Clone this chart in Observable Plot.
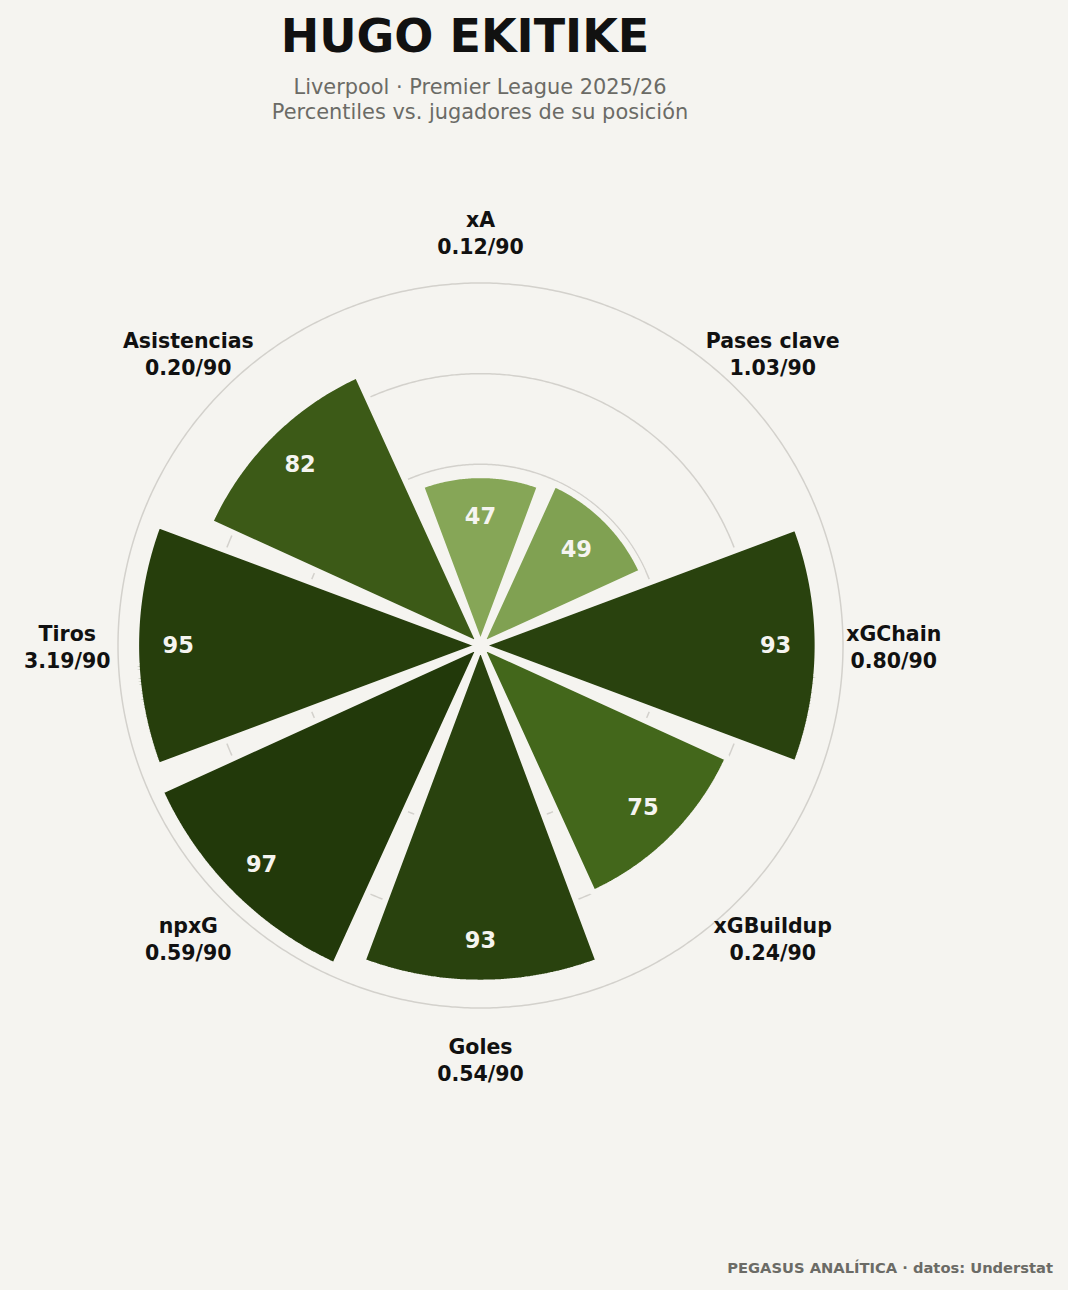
<!DOCTYPE html>
<html>
<head>
<meta charset="utf-8">
<script src="https://cdn.jsdelivr.net/npm/d3@7"></script>
<script src="https://cdn.jsdelivr.net/npm/@observablehq/plot@0.6"></script>
<style>
html, body { margin: 0; padding: 0; background: #f5f4f0; }
#page { position: relative; width: 1068px; height: 1290px; overflow: hidden; font-family: "DejaVu Sans", sans-serif; }
#header { position: relative; height: 140px; }
#footer { position: relative; height: 50px; }
.t { position: absolute; white-space: nowrap; line-height: 1; margin: 0; }
#title { left: 0; width: 930px; text-align: center; top: 13px; font-size: 46px; font-weight: bold; color: #111111; }
#sub1, #sub2 { left: 0; width: 960px; text-align: center; font-size: 20.9px; color: #6b6b66; }
#sub1 { top: 77px; }
#sub2 { top: 102px; }
#credit { right: 15px; top: 20.5px; font-size: 14.7px; font-weight: bold; color: #6b6b66; }
#chart svg { display: block; }
</style>
</head>
<body>
<div id="page">
  <div id="header">
    <div class="t" id="title">HUGO EKITIKE</div>
    <div class="t" id="sub1">Liverpool · Premier League 2025/26</div>
    <div class="t" id="sub2">Percentiles vs. jugadores de su posición</div>
  </div>
  <div id="chart"></div>
  <div id="footer">
    <div class="t" id="credit">PEGASUS ANALÍTICA · datos: Understat</div>
  </div>
</div>
<script>
// ---- data ----
const categories = ["xA", "Pases clave", "xGChain", "xGBuildup", "Goles", "npxG", "Tiros", "Asistencias"];
const perNinety = ["0.12/90", "1.03/90", "0.80/90", "0.24/90", "0.54/90", "0.59/90", "3.19/90", "0.20/90"];
const percentiles = [47, 49, 93, 75, 93, 97, 95, 82];
const gridLevels = [50, 75, 100];
const colorStops = [47, 49, 75, 82, 93, 97];
const colorRange = ["#86a657", "#80a152", "#43671b", "#3c5a17", "#29420e", "#22390a"];

// ---- geometry helpers (polar via azimuthal projection) ----
const BG = "#f5f4f0";
const PX_PER_UNIT = 3.625;     // pixels per percentile point
const DEG_PER_UNIT = 0.5;      // arc degrees per percentile point
const HALF_WIDTH = 20.5;       // half angular width of each wedge (deg)
const LABEL_R = 114;           // radius of category labels (percentile units)
const VALUE_OFFSET = 11.6;     // value labels sit this far inside the bar end

const rows = categories.map((name, i) => ({
  name, per: perNinety[i], value: percentiles[i], angle: i * 360 / categories.length
}));
const lon = (theta) => 180 - theta;
const lat = (v) => 90 - v * DEG_PER_UNIT;

function wedge(d) {
  const l0 = lon(d.angle) - HALF_WIDTH, l1 = lon(d.angle) + HALF_WIDTH;
  const latIn = lat(0.2), latOut = lat(d.value);
  const ring = [[l0, latIn], [l1, latIn], [l1, latOut]];
  for (let t = l1 - 0.5; t > l0; t -= 0.5) ring.push([t, latOut]);
  ring.push([l0, latOut], [l0, latIn]);
  return {type: "Feature", properties: d, geometry: {type: "Polygon", coordinates: [ring]}};
}

const chartTop = 140;
const projection = d3.geoAzimuthalEquidistant()
  .rotate([0, -90])
  .scale(PX_PER_UNIT / (DEG_PER_UNIT * Math.PI / 180))
  .translate([480, 645 - chartTop]);

const plot = Plot.plot({
  width: 1068,
  height: 1100,
  margin: 0,
  projection,
  style: {background: "transparent", fontFamily: "DejaVu Sans, sans-serif"},
  color: {type: "linear", domain: colorStops, range: colorRange, interpolate: "rgb"},
  marks: [
    Plot.geo(gridLevels, {
      geometry: (v) => d3.geoCircle().center([0, 90]).radius(v * DEG_PER_UNIT).precision(0.5)(),
      fill: "none", stroke: "#d3d1cc", strokeWidth: 1.5
    }),
    Plot.geo(rows.map(wedge), {
      fill: (f) => f.properties.value,
      stroke: BG, strokeWidth: 6, strokeLinejoin: "miter"
    }),
    Plot.text(rows, {
      x: (d) => lon(d.angle), y: (d) => lat(d.value - VALUE_OFFSET),
      text: (d) => String(d.value),
      fill: BG, fontSize: 22.5, fontWeight: "bold"
    }),
    Plot.text(rows, {
      x: (d) => lon(d.angle), y: () => lat(LABEL_R),
      text: (d) => `${d.name}\n${d.per}`,
      fill: "#111111", fontSize: 20.5, fontWeight: "bold", lineHeight: 1.32
    })
  ]
});
document.getElementById("chart").appendChild(plot);
</script>
</body>
</html>
